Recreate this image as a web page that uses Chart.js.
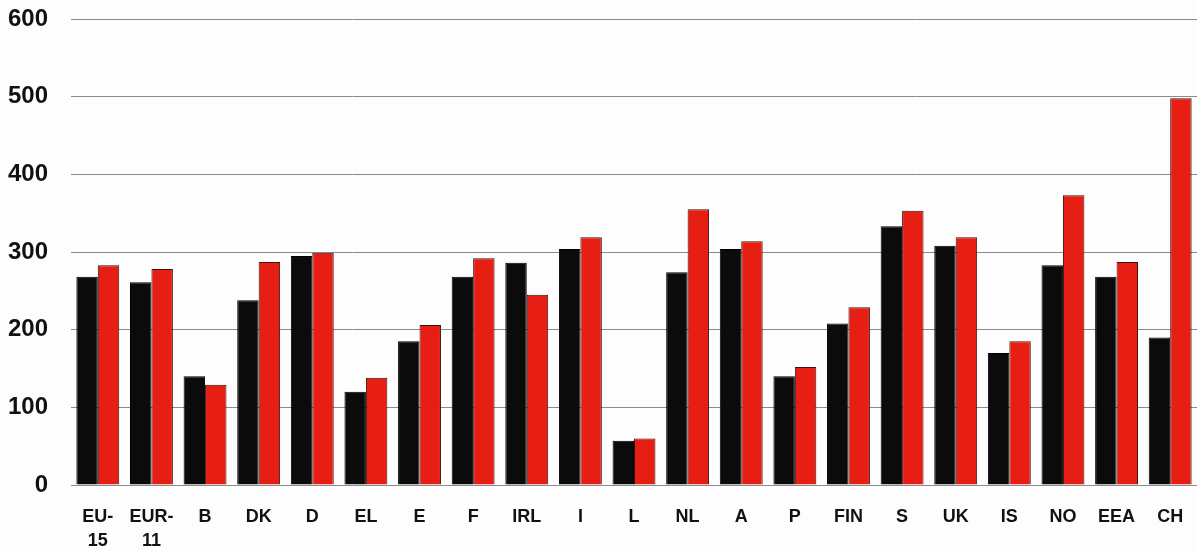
<!DOCTYPE html>
<html>
<head>
<meta charset="utf-8">
<script src="https://cdn.jsdelivr.net/npm/chart.js@4/dist/chart.umd.min.js"></script>
<style>
html,body{margin:0;padding:0;background:#fdfdfd;}
#wrap{width:1197px;height:551px;position:relative;}
</style>
</head>
<body>
<div id="wrap"><canvas id="c" width="1197" height="551"></canvas></div>
<script>
const categories = [["EU-","15"],["EUR-","11"],"B","DK","D","EL","E","F","IRL","I","L","NL","A","P","FIN","S","UK","IS","NO","EEA","CH"];
const seriesBlack = [268,261,140,238,295,120,185,268,286,304,57,274,304,140,208,333,308,170,283,268,190];
const seriesRed   = [283,278,129,287,299,138,206,292,245,319,60,355,314,152,229,353,319,185,373,287,498];
const yTicks = [0,100,200,300,400,500,600];

new Chart(document.getElementById('c'), {
  type: 'bar',
  data: {
    labels: categories,
    datasets: [
      {data: seriesBlack, backgroundColor: '#0b0b0b', borderColor: '#000', borderWidth: 1, barPercentage: 1.0, categoryPercentage: 0.8},
      {data: seriesRed, backgroundColor: '#e61e14', borderColor: '#3a1208', borderWidth: 1, barPercentage: 1.0, categoryPercentage: 0.8}
    ]
  },
  options: {
    responsive: false,
    animation: false,
    devicePixelRatio: 1,
    layout: {padding: {top: 19, right: 0, left: 0, bottom: 0}},
    plugins: {legend: {display: false}, tooltip: {enabled: false}},
    scales: {
      x: {
        grid: {display: false},
        border: {display: false},
        ticks: {color: '#111', font: {family: 'Liberation Sans', size: 18, weight: 'bold', lineHeight: 1.33}, padding: 12, maxRotation: 0, autoSkip: false},
        afterFit: s => { s.height = 66; }
      },
      y: {
        min: 0, max: 600,
        afterBuildTicks: s => { s.ticks = yTicks.map(v => ({value: v})); },
        grid: {color: '#8a8a8a', lineWidth: 1, drawTicks: false},
        border: {display: false},
        ticks: {color: '#111', font: {family: 'Liberation Sans', size: 24, weight: 'bold'}, padding: 23},
        afterFit: s => { s.width = 71; s.paddingTop = 0; s.paddingBottom = 0; }
      }
    }
  }
});
</script>
</body>
</html>
